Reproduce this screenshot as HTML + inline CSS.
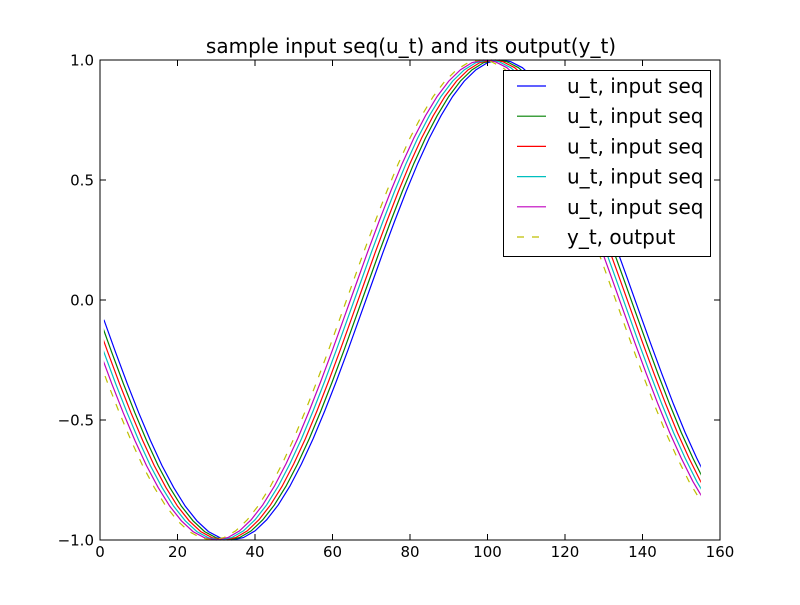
<!DOCTYPE html>
<html><head><meta charset="utf-8"><style>
html,body{margin:0;padding:0;background:#fff;}
svg text{font-family:"DejaVu Sans","Liberation Sans",sans-serif;}
</style></head><body>
<svg id="chart" width="800" height="600" viewBox="0 0 800 600">
<rect width="800" height="600" fill="#fff"/>
<text x="411" y="53" font-size="20" text-anchor="middle">sample input seq(u_t) and its output(y_t)</text>
<defs><clipPath id="clip"><rect x="103.875" y="55" width="597" height="490"/></clipPath></defs>
<g id="series" clip-path="url(#clip)"></g>
<rect x="100" y="60" width="620" height="480" fill="none" stroke="#000" stroke-width="1"/>
<g id="ticks"></g>
<g>
<rect x="503.5" y="70.5" width="207" height="186" fill="#fff" stroke="#000"/>
<g id="legend"></g>
</g>
</svg>
<script>
const sampleT = [1,4,7,10,13,16,19,22,25,28,31,34,37,40,43,46,49,52,55,58,61,64,67,70,73,76,79,82,85,88,91,94,97,100,103,106,109,112,115,118,121,124,127,130,133,136,139,142,145,148,151,154,157,160];
const seqValues = [-0.082,-0.217,-0.347,-0.470,-0.585,-0.690,-0.781,-0.859,-0.920,-0.965,-0.991,-1.000,-0.990,-0.962,-0.916,-0.854,-0.776,-0.683,-0.578,-0.462,-0.338,-0.208,-0.073,0.062,0.197,0.327,0.452,0.569,0.675,0.768,0.848,0.912,0.959,0.989,1.000,0.993,0.968,0.924,0.864,0.788,0.697,0.594,0.480,0.357,0.228,0.094,-0.042,-0.177,-0.308,-0.434,-0.552,-0.659,-0.756,-0.837];
const seriesLabels = ["u_t, input seq","u_t, input seq","u_t, input seq","u_t, input seq","u_t, input seq","y_t, output"];
const seriesShift = [0,1,2,3,4,5];
const seriesColors = ["#0000ff","#008000","#ff0000","#00bfbf","#bf00bf","#bfbf00"];
const xTicks = [0,20,40,60,80,100,120,140,160];
const yTicks = [-1.0,-0.5,0.0,0.5,1.0];
const yTickLabels = ["\u22121.0","\u22120.5","0.0","0.5","1.0"];

const NS="http://www.w3.org/2000/svg";
function xs(t){return 100+(t-0)*620/160;}
function ys(v){return 300-v*240;}

const g=document.getElementById('series');
seriesLabels.forEach((lab,k)=>{
  const pts=sampleT.map((s,i)=>xs(s-seriesShift[k]).toFixed(2)+","+ys(seqValues[i]).toFixed(2)).join(" ");
  const pl=document.createElementNS(NS,'polyline');
  pl.setAttribute('points',pts);
  pl.setAttribute('fill','none');
  pl.setAttribute('stroke',seriesColors[k]);
  pl.setAttribute('stroke-width','1.2');
  if(k===5) pl.setAttribute('stroke-dasharray','7,8');
  
  
  g.appendChild(pl);
});

const tg=document.getElementById('ticks');
function line(x1,y1,x2,y2){const l=document.createElementNS(NS,'line');l.setAttribute('x1',x1);l.setAttribute('y1',y1);l.setAttribute('x2',x2);l.setAttribute('y2',y2);l.setAttribute('stroke','#000');tg.appendChild(l);return l;}
function text(x,y,s,anchor){const t=document.createElementNS(NS,'text');t.setAttribute('x',x);t.setAttribute('y',y);t.setAttribute('font-size','15');t.setAttribute('text-anchor',anchor);t.textContent=s;tg.appendChild(t);return t;}
xTicks.forEach(v=>{
  const x=xs(v);
  const a=line(x,540,x,534);
  
  
  const b=line(x,60,x,66);
  
  
  const t=text(x,557,String(v),'middle');
  
  
});
yTicks.forEach((v,i)=>{
  const y=ys(v);
  const a=line(100,y,106,y);
  
  
  const b=line(720,y,714,y);
  
  
  const t=text(94,y+5.5,yTickLabels[i],'end');
  
  
});

const lg=document.getElementById('legend');
seriesLabels.forEach((lab,k)=>{
  const y=86+k*30.2;
  const l=document.createElementNS(NS,'line');
  l.setAttribute('x1',517);l.setAttribute('x2',546);l.setAttribute('y1',y);l.setAttribute('y2',y);
  l.setAttribute('stroke',seriesColors[k]);l.setAttribute('stroke-width','1.2');
  if(k===5) l.setAttribute('stroke-dasharray','7,8');
  
  
  lg.appendChild(l);
  const t=document.createElementNS(NS,'text');
  t.setAttribute('x',567);t.setAttribute('y',y+7);t.setAttribute('font-size','20');
  t.textContent=lab;
  
  
  lg.appendChild(t);
});
</script>
</body></html>
